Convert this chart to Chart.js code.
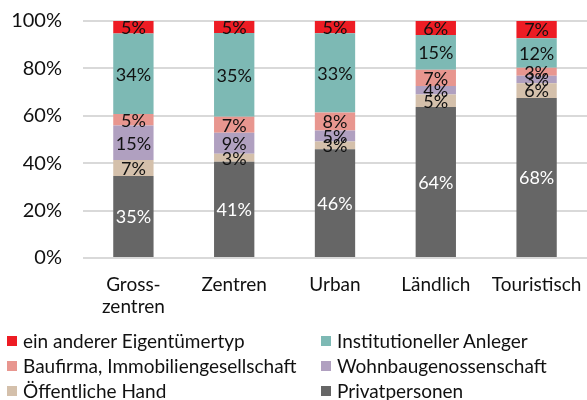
<!DOCTYPE html>
<html>
<head>
<meta charset="utf-8">
<script src="https://cdn.jsdelivr.net/npm/chart.js@4/dist/chart.umd.min.js"></script>
<style>
  html, body { margin: 0; padding: 0; background: #fff; }
  #wrap { position: relative; width: 587px; height: 400px; font-family: Lato, sans-serif; }
  #legend { position: absolute; left: 7px; top: 330px; width: 580px; display: grid;
            grid-template-columns: 314px 260px; row-gap: 3px; }
  .item { display: flex; align-items: center; font-size: 19px; line-height: 22px; color: #111; white-space: nowrap; }
  .box { width: 10px; height: 10px; margin-right: 6px; flex: none; }
</style>
</head>
<body>
<div id="wrap">
  <canvas id="chart" width="587" height="400"></canvas>
  <div id="legend"></div>
</div>
<script>
const categories = [['Gross-', 'zentren'], 'Zentren', 'Urban', 'Ländlich', 'Touristisch'];

// stacked bottom to top
const privatpersonen = [34.6, 40.6, 45.9, 63.7, 67.5];
const oeffentlicheHand = [6.8, 3.4, 3.3, 5.3, 6.2];
const wohnbaugenossenschaft = [14.5, 8.9, 4.6, 3.6, 3.2];
const baufirma = [4.9, 6.7, 7.6, 6.8, 3.4];
const institutionell = [33.9, 35.3, 33.4, 14.7, 12.4];
const andererTyp = [5.3, 5.1, 5.2, 5.9, 7.3];

const yTicks = [0, 20, 40, 60, 80, 100];

const series = [
  { label: 'Privatpersonen', data: privatpersonen, color: '#666666', text: '#ffffff' },
  { label: 'Öffentliche Hand', data: oeffentlicheHand, color: '#D4C0AB', text: '#111111' },
  { label: 'Wohnbaugenossenschaft', data: wohnbaugenossenschaft, color: '#B0A0C0', text: '#111111' },
  { label: 'Baufirma, Immobiliengesellschaft', data: baufirma, color: '#E8968F', text: '#111111' },
  { label: 'Institutioneller Anleger', data: institutionell, color: '#7DB9B4', text: '#111111' },
  { label: 'ein anderer Eigentümertyp', data: andererTyp, color: '#ED1C24', text: '#111111' }
];

const legendOrder = [
  'ein anderer Eigentümertyp', 'Institutioneller Anleger',
  'Baufirma, Immobiliengesellschaft', 'Wohnbaugenossenschaft',
  'Öffentliche Hand', 'Privatpersonen'
];

const FONT = 'Lato';

const barLabels = {
  id: 'barLabels',
  afterDatasetsDraw(chart) {
    const ctx = chart.ctx;
    ctx.save();
    ctx.font = '18px ' + FONT;
    ctx.textAlign = 'center';
    ctx.textBaseline = 'middle';
    chart.data.datasets.forEach((ds, i) => {
      const meta = chart.getDatasetMeta(i);
      meta.data.forEach((bar, j) => {
        ctx.fillStyle = ds.textColor;
        ctx.fillText(Math.round(ds.data[j]) + '%', bar.x, (bar.y + bar.base) / 2 + 1);
      });
    });
    ctx.restore();
  }
};

new Chart(document.getElementById('chart'), {
  type: 'bar',
  data: {
    labels: categories,
    datasets: series.map(s => ({
      label: s.label,
      data: s.data,
      backgroundColor: s.color,
      textColor: s.text,
      borderWidth: 0,
      barPercentage: 0.4,
      categoryPercentage: 1
    }))
  },
  options: {
    responsive: false,
    animation: false,
    layout: { padding: { top: 21, right: 0, left: 0, bottom: 80 } },
    plugins: {
      legend: { display: false },
      tooltip: { enabled: false }
    },
    scales: {
      x: {
        stacked: true,
        grid: { display: false },
        border: { display: false },
        ticks: { color: '#111', padding: 7, font: { family: FONT, size: 19 }, maxRotation: 0, autoSkip: false },
        afterFit(scale) {
          scale.height = 62;
          scale.paddingLeft = 0;
          scale.paddingRight = 0;
        }
      },
      y: {
        stacked: true,
        min: 0,
        max: 100,
        afterBuildTicks(scale) { scale.ticks = yTicks.map(v => ({ value: v })); },
        grid: { color: '#D9D9D9', lineWidth: 2, drawTicks: false },
        border: { display: false },
        ticks: { color: '#111', padding: 21, font: { family: FONT, size: 20 }, callback: v => v + '%' },
        afterFit(scale) {
          scale.width = 83;
          scale.paddingTop = 0;
          scale.paddingBottom = 0;
        }
      }
    }
  },
  plugins: [barLabels]
});

const legend = document.getElementById('legend');
legendOrder.forEach(name => {
  const s = series.find(x => x.label === name);
  const item = document.createElement('div');
  item.className = 'item';
  item.innerHTML = '<span class="box" style="background:' + s.color + '"></span>' + s.label;
  legend.appendChild(item);
});
</script>
</body>
</html>
